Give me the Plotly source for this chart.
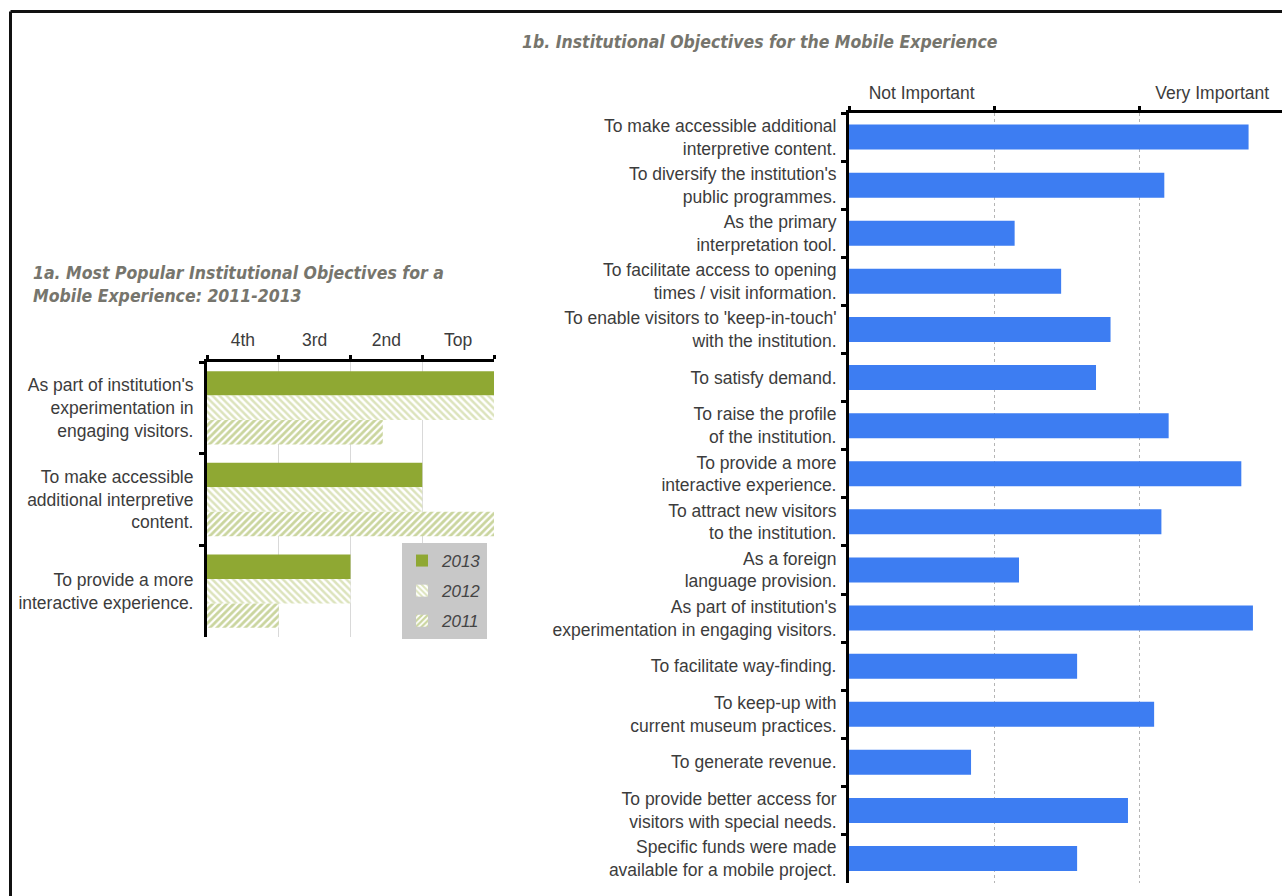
import plotly.graph_objects as go

# ---- 1a: most popular objectives, ranked per survey year ----
rank_categories = [
    "As part of institution's<br>experimentation in<br>engaging visitors.",
    "To make accessible<br>additional interpretive<br>content.",
    "To provide a more<br>interactive experience.",
]
rank_2013 = [4.0, 3.0, 2.0]
rank_2012 = [4.0, 3.0, 2.0]
rank_2011 = [2.45, 4.0, 1.0]
rank_labels = ["4th", "3rd", "2nd", "Top"]

# ---- 1b: importance of each objective ----
objective_categories = [
    "To make accessible additional<br>interpretive content.",
    "To diversify the institution's<br>public programmes.",
    "As the primary<br>interpretation tool.",
    "To facilitate access to opening<br>times / visit information.",
    "To enable visitors to 'keep-in-touch'<br>with the institution.",
    "To satisfy demand.",
    "To raise the profile<br>of the institution.",
    "To provide a more<br>interactive experience.",
    "To attract new visitors<br>to the institution.",
    "As a foreign<br>language provision.",
    "As part of institution's<br>experimentation in engaging visitors.",
    "To facilitate way-finding.",
    "To keep-up with<br>current museum practices.",
    "To generate revenue.",
    "To provide better access for<br>visitors with special needs.",
    "Specific funds were made<br>available for a mobile project.",
]
importance = [2.75, 2.17, 1.14, 1.46, 1.80, 1.70, 2.20, 2.70,
              2.15, 1.17, 2.78, 1.57, 2.10, 0.84, 1.92, 1.57]
importance_labels = ["Not Important", "", "Very Important"]

W, H = 1282, 896
LABEL_FONT = dict(family="Liberation Sans, Arial, sans-serif", size=17.5, color="#3c3c3c")
TITLE_FONT = dict(family="Liberation Sans Narrow, DejaVu Sans Condensed, Arial Narrow, sans-serif",
                  size=17.5, color="#76756d", weight="bold", style="italic")
OLIVE = "#8fa833"
BLUE = "#3d7df2"


def px_x(x):
    return x / W


def px_y(y):
    return 1 - y / H


fig = go.Figure()

fig.add_trace(go.Bar(
    y=rank_categories, x=rank_2013, orientation="h", name="2013",
    marker=dict(color=OLIVE, line=dict(width=0)),
    legendgroup="2013", xaxis="x", yaxis="y",
))
fig.add_trace(go.Bar(
    y=rank_categories, x=rank_2012, orientation="h", name="2012",
    marker=dict(color="white", line=dict(width=0),
                pattern=dict(shape="\\", fgcolor="#b9c77a", bgcolor="white",
                             size=5, solidity=0.5)),
    legendgroup="2012", xaxis="x", yaxis="y",
))
fig.add_trace(go.Bar(
    y=rank_categories, x=rank_2011, orientation="h", name="2011",
    marker=dict(color="white", line=dict(width=0),
                pattern=dict(shape="/", fgcolor="#95ab3e", bgcolor="white",
                             size=5, solidity=0.55)),
    legendgroup="2011", xaxis="x", yaxis="y",
))

fig.add_trace(go.Bar(
    y=objective_categories, x=importance, orientation="h", width=0.52,
    marker=dict(color=BLUE, line=dict(width=0)),
    showlegend=False, xaxis="x2", yaxis="y2",
))

# invisible traces so the label-only axes are drawn
fig.add_trace(go.Scatter(x=[None], y=[None], xaxis="x3", yaxis="y", showlegend=False))
fig.add_trace(go.Scatter(x=[None], y=[None], xaxis="x4", yaxis="y2", showlegend=False))

left_dom_x = [px_x(207), px_x(494)]
left_dom_y = [px_y(637), px_y(362)]
right_dom_x = [px_x(849), 1.0]
right_dom_y = [px_y(882.6), px_y(113)]

axis_line = dict(showline=True, linecolor="black", linewidth=3, zeroline=False)

fig.update_layout(
    width=W, height=H,
    margin=dict(l=0, r=0, t=0, b=0),
    paper_bgcolor="white", plot_bgcolor="white",
    barmode="group", bargap=0.2, bargroupgap=0,
    font=LABEL_FONT,
    xaxis=dict(domain=left_dom_x, anchor="y", side="top", range=[0, 4],
               tickvals=[0, 1, 2, 3, 4], showticklabels=False,
               ticks="outside", ticklen=4, tickwidth=3, tickcolor="black",
               showgrid=True, gridcolor="#d9d9d9", gridwidth=1, **axis_line),
    xaxis3=dict(overlaying="x", anchor="y", side="top", range=[0, 4],
                tickvals=[0.5, 1.5, 2.5, 3.5], ticktext=rank_labels,
                showgrid=False, showline=False, zeroline=False, ticks="",
                ticklabelstandoff=12, tickfont=LABEL_FONT),
    yaxis=dict(domain=left_dom_y, anchor="x", type="category", autorange="reversed",
               ticks="outside", tickson="boundaries", ticklen=5, tickwidth=3,
               tickcolor="black", showgrid=False, ticklabelstandoff=7,
               tickfont=LABEL_FONT, **axis_line),
    xaxis2=dict(domain=right_dom_x, anchor="y2", side="top", range=[0, 2.98],
                tickvals=[0, 1, 2], showticklabels=False,
                ticks="outside", ticklen=4, tickwidth=3, tickcolor="black",
                showgrid=True, gridcolor="#b5b5b5", griddash="dot", gridwidth=1,
                **axis_line),
    xaxis4=dict(overlaying="x2", anchor="y2", side="top", range=[0, 2.98],
                tickvals=[0.5, 1.5, 2.5], ticktext=importance_labels,
                showgrid=False, showline=False, zeroline=False, ticks="",
                ticklabelstandoff=10, tickfont=LABEL_FONT),
    yaxis2=dict(domain=right_dom_y, anchor="x2", type="category", autorange="reversed",
                ticks="outside", tickson="boundaries", ticklen=5, tickwidth=3,
                tickcolor="black", showgrid=False, ticklabelstandoff=6,
                tickfont=LABEL_FONT, **axis_line),
    legend=dict(x=px_x(402), y=px_y(543), xanchor="left", yanchor="top",
                bgcolor="#c8c8c8", borderwidth=0, traceorder="grouped",
                tracegroupgap=5, itemwidth=30,
                font=dict(family="Liberation Sans, Arial, sans-serif", size=17,
                          color="#444444", style="italic")),
    showlegend=True,
)

# chart titles
fig.add_annotation(text="1a. Most Popular Institutional Objectives for a<br>Mobile Experience: 2011-2013",
                   x=px_x(31), y=px_y(261), xref="paper", yref="paper",
                   xanchor="left", yanchor="top", align="left", showarrow=False,
                   font=TITLE_FONT)
fig.add_annotation(text="1b. Institutional Objectives for the Mobile Experience",
                   x=px_x(520), y=px_y(42), xref="paper", yref="paper",
                   xanchor="left", yanchor="middle", align="left", showarrow=False,
                   font=TITLE_FONT)

# page frame along the top and left edges
fig.add_shape(type="line", xref="paper", yref="paper",
              x0=px_x(10.5), x1=1.0, y0=px_y(11.5), y1=px_y(11.5),
              line=dict(color="#111111", width=3))
fig.add_shape(type="line", xref="paper", yref="paper",
              x0=px_x(10.5), x1=px_x(10.5), y0=px_y(11.5), y1=0.0,
              line=dict(color="#111111", width=3))

fig.write_html("out.html")
